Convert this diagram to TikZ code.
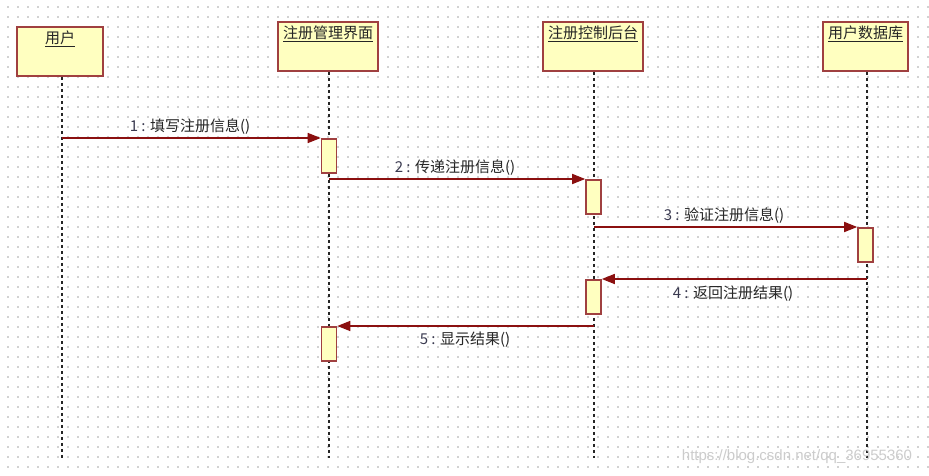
\documentclass[tikz,border=0pt]{standalone}
\usepackage{fontspec}
\setmainfont{Noto Sans CJK SC}
\newfontfamily\wmfont{Liberation Sans}
\usetikzlibrary{arrows.meta}
\definecolor{boxfill}{HTML}{FFFFC0}
\definecolor{boxdraw}{HTML}{A04040}
\definecolor{msgcol}{HTML}{8B1010}
\definecolor{griddot}{HTML}{D2D2D2}
\definecolor{numcol}{HTML}{3A3A50}
\tikzset{
  objbox/.style={draw=boxdraw, fill=boxfill, line width=1.8pt, inner sep=0pt},
  actbox/.style={draw=boxdraw, fill=boxfill, line width=1.6pt, inner sep=0pt, minimum width=15pt, minimum height=34pt},
  lifeline/.style={black!85, line width=1.2pt, dash pattern=on 3pt off 3pt},
  msg/.style={msgcol, line width=1.6pt, -{Triangle[length=13pt,width=10pt]}},
  title/.style={font=\fontsize{15}{17}\selectfont, text=black!85},
  msglabel/.style={font=\fontsize{15}{17}\selectfont, text=black!85},
}
\newcommand{\num}[1]{{\color{numcol}#1 : }}
\begin{document}
\begin{tikzpicture}[x=1pt,y=-1pt]
\useasboundingbox (0,0) rectangle (929,476);
\fill[white] (0,0) rectangle (929,476);
% dotted grid
\foreach \yy in {7,17,...,467}{
  \draw[griddot, line width=1.3pt, dash pattern=on 1.3pt off 8.7pt] (7.4,\yy) -- (929,\yy);
}
% objects
\node[objbox, minimum width=86pt, minimum height=49pt] (u) at (60,51.5) {};
\node[objbox, minimum width=100pt, minimum height=49pt] (ui) at (328,46.5) {};
\node[objbox, minimum width=100pt, minimum height=49pt] (ctl) at (593,46.5) {};
\node[objbox, minimum width=85pt, minimum height=49pt] (db) at (865.5,46.5) {};
\node[title] (tu) at ([yshift=-13pt]u.north) {\underline{用户}};
\node[title] (tui) at ([yshift=-13pt]ui.north) {\underline{注册管理界面}};
\node[title] (tctl) at ([yshift=-13pt]ctl.north) {\underline{注册控制后台}};
\node[title] (tdb) at ([yshift=-13pt]db.north) {\underline{用户数据库}};
% lifeline ends
\coordinate (uB) at (62,458);
\coordinate (uiB) at (329,458);
\coordinate (ctlB) at (594,458);
\coordinate (dbB) at (867,458);
\draw[lifeline] (u.south -| uB) -- (uB);
\draw[lifeline] (ui.south -| uiB) -- (uiB);
\draw[lifeline] (ctl.south -| ctlB) -- (ctlB);
\draw[lifeline] (db.south -| dbB) -- (dbB);
% activations
\node[actbox, anchor=north] (a1) at (329,138) {};
\node[actbox, anchor=north] (a2) at (593.5,179) {};
\node[actbox, anchor=north] (a3) at (865.5,227) {};
\node[actbox, anchor=north] (a4) at (593.5,279) {};
\node[actbox, anchor=north] (a5) at (329,326) {};
% message sources
\coordinate (s1) at (62,138);
\coordinate (s2) at (329,179);
\coordinate (s3) at (594,227);
\coordinate (s4) at (867,279);
\coordinate (s5) at (594,326);
\draw[msg] (s1) -- (a1.north west);
\draw[msg] (s2) -- (a2.north west);
\draw[msg] (s3) -- (a3.north west);
\draw[msg] (s4) -- (a4.north east);
\draw[msg] (s5) -- (a5.north east);
% labels
\node[msglabel] (l1) at (190,127) {\num{1}填写注册信息()};
\node[msglabel] (l2) at (455,168) {\num{2}传递注册信息()};
\node[msglabel] (l3) at (724,216) {\num{3}验证注册信息()};
\node[msglabel] (l4) at (733,294) {\num{4}返回注册结果()};
\node[msglabel] (l5) at (465,340) {\num{5}显示结果()};
% watermark
\node[font=\wmfont\fontsize{15}{17}\selectfont, text=black!20] (wm) at (797,457) {https://blog.csdn.net/qq\_36955360};
\end{tikzpicture}
\end{document}
